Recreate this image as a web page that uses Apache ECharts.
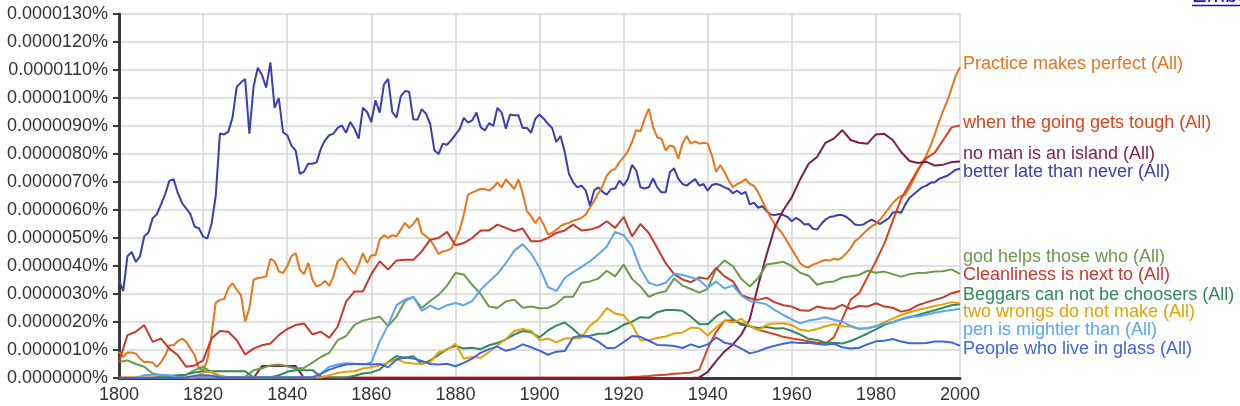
<!DOCTYPE html>
<html><head><meta charset="utf-8">
<script src="https://cdn.jsdelivr.net/npm/echarts@6/dist/echarts.min.js"></script>
<style>html,body{margin:0;padding:0;background:#fff}#c{width:1240px;height:406px}</style>
</head><body><div id="c"></div>
<script>
// values are in units of 0.000001 %
const firstYear = 1800;
const xTicks = [1800, 1820, 1840, 1860, 1880, 1900, 1920, 1940, 1960, 1980, 2000];

// yearly series (1800..2000, step 1)
const betterLate = [
 3.5,3.1,4.35,4.5,4.15,4.35,5.06,5.2,5.7,5.85,
 6.2,6.57,7.05,7.1,6.6,6.25,6.05,5.85,5.4,5.35,
 5.05,4.98,5.5,6.5,8.73,8.7,8.8,9.3,10.4,10.55,
 10.68,8.73,10.4,11.08,10.82,10.37,11.27,9.65,10.0,8.78,
 8.67,8.3,8.13,7.29,7.37,7.65,7.65,7.7,8.19,8.49,
 8.67,8.73,8.93,9.02,8.76,9.14,8.9,8.55,9.65,9.5,
 9.14,9.92,9.48,10.48,10.68,9.5,9.3,10.06,10.25,10.22,
 9.23,9.23,9.6,9.44,9.08,8.13,8.0,8.37,8.33,8.49,
 8.69,8.88,9.29,9.12,9.2,9.48,8.96,8.84,9.1,9.0,
 9.65,9.48,8.9,9.41,9.38,9.38,8.93,8.93,8.76,9.26,
 9.41,9.26,9.08,8.93,8.43,8.64,8.07,7.29,6.99,6.81,
 6.87,6.69,6.15,6.7,6.81,6.65,6.55,6.75,6.77,7.05,
 6.87,7.11,7.61,7.41,6.81,6.77,6.81,7.13,6.81,6.63,
 6.63,7.35,7.49,7.12,6.93,6.87,6.99,7.11,6.87,6.93,
 6.69,6.89,6.93,6.89,6.81,6.75,6.6,6.69,6.57,6.65,
 6.2,6.26,6.08,6.14,5.96,5.84,5.82,5.86,5.82,5.75,
 5.6,5.72,5.63,5.48,5.5,5.34,5.3,5.5,5.66,5.75,
 5.78,5.82,5.82,5.75,5.63,5.48,5.46,5.48,5.58,5.66,
 5.58,5.5,5.6,5.7,5.9,5.94,5.9,6.2,6.44,6.56,
 6.69,6.81,6.87,6.97,6.99,7.11,7.17,7.23,7.33,7.44,
 7.47];

const practice = [
 0.93,0.75,0.91,0.91,0.87,0.69,0.57,0.57,0.55,0.4,
 0.57,0.81,1.17,1.17,1.32,1.41,1.29,1.05,0.81,0.34,
 0.28,0.63,1.53,2.69,2.79,2.82,3.21,3.39,3.15,2.97,
 2.01,2.49,3.51,3.57,3.59,3.63,4.26,4.17,3.81,3.75,
 3.99,4.35,4.46,3.87,3.71,4.11,3.51,3.27,3.33,3.47,
 3.29,3.63,4.17,4.28,4.11,3.87,3.71,4.05,4.46,4.11,
 4.38,4.38,4.94,5.1,5.0,5.1,5.06,5.3,5.54,5.36,
 5.5,5.72,5.18,5.06,4.94,4.7,4.43,4.52,4.55,4.62,
 4.94,5.27,5.84,6.55,6.63,6.69,6.75,6.75,6.69,6.81,
 6.99,6.81,7.09,6.93,6.75,7.09,6.6,5.96,5.78,5.54,
 5.75,5.48,5.12,5.18,5.3,5.42,5.5,5.54,5.62,5.66,
 5.72,5.84,6.08,6.32,6.6,6.87,7.23,7.41,7.47,7.71,
 7.89,8.09,8.43,8.85,8.81,9.26,9.62,8.96,8.6,8.55,
 8.13,8.31,8.25,7.83,8.37,8.64,8.37,8.45,8.37,8.4,
 8.37,7.95,7.37,7.61,7.35,7.05,6.81,6.93,6.99,7.11,
 6.93,6.87,6.63,6.32,6.02,5.72,5.48,5.3,5.1,4.85,
 4.6,4.35,4.1,3.98,3.95,4.05,4.1,4.17,4.22,4.19,
 4.26,4.22,4.31,4.46,4.64,4.88,5.0,5.15,5.3,5.42,
 5.5,5.66,5.85,6.05,6.25,6.4,6.5,6.55,6.8,7.1,
 7.4,7.7,7.95,8.3,8.7,9.15,9.55,9.9,10.35,10.8,
 11.1];

// two-yearly series (1800..2000, step 2)
const goingTough = [
 0.02,0.02,0.02,0.02,0.02,0.02,0.02,0.02,0.02,0.02,
 0.02,0.02,0.02,0.02,0.02,0.02,0.02,0.02,0.02,0.02,
 0.02,0.02,0.02,0.02,0.02,0.02,0.02,0.02,0.02,0.02,
 0.02,0.02,0.02,0.02,0.02,0.02,0.02,0.02,0.02,0.02,
 0.02,0.02,0.02,0.02,0.02,0.02,0.02,0.02,0.02,0.02,
 0.02,0.02,0.02,0.02,0.02,0.02,0.02,0.02,0.02,0.02,
 0.02,0.04,0.05,0.07,0.1,0.12,0.15,0.17,0.2,0.3,
 1.05,1.65,2.05,2.05,1.95,1.85,1.72,1.64,1.56,1.47,
 1.41,1.37,1.31,1.26,1.23,1.45,2.1,2.8,3.03,3.6,
 4.17,4.8,5.6,6.4,6.93,7.45,7.85,8.05,8.5,8.95,
 9.02];

const noMan = [
 0,0,0,0,0,0,0,0,0,0,
 0,0,0,0,0,0,0,0.43,0.43,0.43,
 0.43,0.43,0,0,0,0,0,0,0,0,
 0,0,0,0,0,0,0,0,0,0,
 0,0,0,0,0,0,0,0,0,0,
 0,0,0,0,0,0,0,0,0,0,
 0,0,0,0,0,0,0,0,0,0.02,
 0.22,0.6,0.95,1.2,1.55,2.1,3.3,4.4,5.4,6.0,
 6.45,7.1,7.65,7.89,8.4,8.55,8.85,8.5,8.4,8.37,
 8.7,8.72,8.5,8.07,7.75,7.68,7.72,7.59,7.62,7.71,
 7.73];

const godHelps = [
 0.57,0.63,0.5,0.4,0.16,0.1,0.07,0.07,0.12,0.28,
 0.4,0.2,0.04,0.04,0.04,0.04,0.28,0.35,0.45,0.48,
 0.42,0.34,0.36,0.55,0.75,0.9,1.35,1.5,1.9,2.05,
 2.12,2.19,1.85,2.2,2.75,2.9,2.5,2.75,2.97,3.3,
 3.75,3.7,3.33,3.0,2.55,2.5,2.73,2.8,2.51,2.55,
 2.49,2.5,2.65,2.9,2.9,3.4,3.45,3.55,3.83,3.63,
 4.05,3.54,3.27,2.9,3.03,3.1,3.55,3.3,3.18,3.05,
 3.18,3.9,4.2,3.99,3.54,3.27,3.57,4.05,4.1,4.15,
 4.0,3.76,3.65,3.33,3.42,3.45,3.59,3.63,3.68,3.83,
 3.76,3.8,3.71,3.62,3.71,3.75,3.76,3.8,3.81,3.88,
 3.72];

const cleanliness = [
 0.57,1.53,1.65,1.89,1.29,1.41,1.05,0.81,0.4,0.45,
 0.63,1.41,1.68,1.65,1.35,0.84,1.05,1.17,1.23,1.53,
 1.75,1.89,1.95,1.56,1.65,1.44,1.83,2.73,3.09,3.09,
 3.71,4.17,3.87,4.2,4.22,4.22,4.52,4.94,5.0,5.22,
 4.74,4.82,5.0,5.27,5.27,5.48,5.36,5.24,5.34,4.88,
 4.88,5.0,5.18,5.27,5.48,5.27,5.3,5.39,5.6,5.36,
 5.75,5.06,5.5,5.18,4.64,4.1,3.71,3.52,3.42,3.59,
 3.54,3.93,3.63,3.45,2.97,2.85,2.79,2.87,2.7,2.6,
 2.55,2.42,2.4,2.55,2.49,2.47,2.61,2.47,2.57,2.55,
 2.67,2.55,2.51,2.37,2.43,2.6,2.7,2.79,2.88,3.03,
 3.11];

const beggars = [
 0,0,0,0,0,0.05,0.07,0.1,0.12,0.2,
 0.24,0.24,0.24,0.24,0.24,0.24,0.02,0.02,0.02,0.1,
 0.22,0.28,0.28,0.28,0.05,0.03,0.02,0.02,0.08,0.16,
 0.2,0.3,0.57,0.78,0.72,0.78,0.5,0.63,0.82,1.03,
 1.15,1.05,1.08,1.03,1.17,1.25,1.38,1.55,1.68,1.63,
 1.45,1.7,1.87,1.98,1.75,1.47,1.51,1.58,1.59,1.72,
 1.9,2.01,2.17,2.15,2.35,2.43,2.43,2.4,2.19,1.93,
 1.92,2.2,2.38,2.1,1.9,1.85,1.79,1.82,1.77,1.78,
 1.68,1.55,1.4,1.36,1.26,1.26,1.23,1.32,1.45,1.59,
 1.74,1.9,1.99,2.1,2.17,2.25,2.34,2.42,2.51,2.6,
 2.63];

const twoWrongs = [
 0.01,0.01,0.01,0.01,0.01,0.01,0.01,0.01,0.01,0.02,
 0.2,0.22,0.1,0.02,0.02,0.02,0.02,0.02,0.02,0.02,
 0.02,0.02,0.02,0.02,0.02,0.1,0.18,0.22,0.24,0.34,
 0.38,0.45,0.55,0.68,0.55,0.52,0.5,0.57,0.92,1.0,
 1.23,0.69,0.75,0.72,0.93,1.17,1.39,1.68,1.75,1.68,
 1.35,1.41,1.27,1.41,1.41,1.44,1.87,2.1,2.5,2.3,
 2.24,1.9,1.35,1.35,1.43,1.48,1.59,1.62,1.8,1.78,
 1.52,1.8,2.05,1.98,2.12,1.86,1.71,1.9,1.95,1.95,
 1.89,1.72,1.68,1.75,1.85,1.92,1.85,1.84,1.75,1.79,
 1.85,1.99,2.12,2.25,2.35,2.43,2.5,2.57,2.63,2.71,
 2.67];

const penMightier = [
 0,0,0,0.1,0.12,0.12,0.1,0.03,0.02,0.02,
 0.02,0.02,0.02,0.02,0.02,0.02,0.02,0.02,0.02,0.02,
 0.02,0.02,0.02,0.02,0.15,0.4,0.48,0.53,0.51,0.48,
 0.55,1.3,1.89,2.6,2.8,2.9,2.4,2.58,2.45,2.6,
 2.68,2.6,2.75,3.15,3.45,3.72,4.1,4.55,4.78,4.45,
 3.95,3.25,3.1,3.57,3.78,3.97,4.17,4.42,4.7,5.22,
 5.1,4.7,3.9,3.4,3.3,3.4,3.73,3.68,3.6,3.5,
 3.22,3.45,3.2,3.3,2.95,2.75,2.7,2.63,2.42,2.25,
 2.09,1.95,2.05,2.1,2.17,2.08,2.01,1.86,1.77,1.77,
 1.85,1.94,1.99,2.1,2.2,2.2,2.26,2.33,2.38,2.43,
 2.47];

const peopleGlass = [
 0,0,0,0,0,0,0,0,0.02,0.08,
 0.1,0.08,0.02,0.02,0.02,0.02,0.02,0.02,0.02,0.02,
 0.02,0.02,0.02,0.02,0.15,0.3,0.4,0.48,0.5,0.5,
 0.48,0.5,0.38,0.66,0.73,0.7,0.61,0.5,0.48,0.51,
 0.42,0.54,0.69,0.9,1.03,1.12,0.97,1.05,1.2,1.1,
 0.98,0.83,0.94,0.96,1.45,1.52,1.45,1.3,1.07,1.08,
 1.28,1.5,1.47,1.33,1.18,1.17,1.14,1.07,1.2,1.1,
 1.2,1.45,1.26,1.2,1.05,0.88,0.95,1.07,1.15,1.22,
 1.28,1.25,1.26,1.21,1.19,1.22,1.1,1.05,1.08,1.2,
 1.31,1.33,1.39,1.3,1.24,1.24,1.25,1.3,1.3,1.27,
 1.15];

const seriesNames = [
 'Practice makes perfect (All)', 'when the going gets tough (All)', 'no man is an island (All)',
 'better late than never (All)', 'god helps those who (All)', 'Cleanliness is next to (All)',
 'Beggars can not be choosers (All)', 'two wrongs do not make (All)', 'pen is mightier than (All)',
 'People who live in glass (All)'];
const seriesValues = [practice, goingTough, noMan, betterLate, godHelps, cleanliness, beggars, twoWrongs, penMightier, peopleGlass];
const seriesStep = [1, 2, 2, 1, 2, 2, 2, 2, 2, 2];

// styles
const FONT = '"Liberation Sans", Arial, sans-serif';
const colors = ['#E6761B','#D9461D','#7B1E48','#3B3EAC','#6C9A4B','#C63A2E','#2E8A5C','#E2A407','#5AA6F2','#4166D8'];
const labelDy = [-3,-2,-8,3,-17,-16,-9,9,21,3];
const drawOrder = [3,0,1,2,4,5,6,7,8,9];

const chart = echarts.init(document.getElementById('c'), null, {renderer:'canvas'});
const series = drawOrder.map(function(k){
  const vals = seriesValues[k];
  return {
    name: seriesNames[k], type:'line', showSymbol:false, symbol:'none',
    data: vals.map(function(v,i){ return [firstYear + i*seriesStep[k], v]; }),
    lineStyle:{color:colors[k], width:2}, itemStyle:{color:colors[k]},
    emphasis:{disabled:true}, z: 2,
    endLabel:{show:true, formatter: seriesNames[k], color:colors[k], fontSize:18,
      fontFamily:FONT, distance:3, offset:[0, labelDy[k]]}
  };
});

chart.setOption({
  animation:false,
  backgroundColor:'#ffffff',
  grid:{left:119, right:280, top:14, bottom:28, containLabel:false},
  xAxis:{type:'value', min:xTicks[0], max:xTicks[xTicks.length-1], interval:20,
    axisLine:{show:true, lineStyle:{color:'#3a3a3a', width:3}},
    axisTick:{show:false},
    axisLabel:{color:'#333', fontSize:18, margin:8, fontFamily:FONT,
      formatter:function(v){return String(v);}},
    splitLine:{show:true, lineStyle:{color:'#d6d6d6', width:1.5}}
  },
  yAxis:{type:'value', min:0, max:13, interval:1,
    axisLine:{show:true, lineStyle:{color:'#3a3a3a', width:3}},
    axisTick:{show:true, length:6, lineStyle:{color:'#3a3a3a', width:2}},
    axisLabel:{color:'#333', fontSize:18, margin:11, fontFamily:FONT,
      formatter:function(v){return (v/1e6).toFixed(7)+'%';}},
    splitLine:{show:true, lineStyle:{color:'#d6d6d6', width:1.5}}
  },
  series: series,
  graphic:[
    {type:'text', x:1192, y:-15, style:{text:'Embed', fill:'#1a0dcc', font:'22px ' + FONT, verticalAlign:'top'}},
    {type:'line', shape:{x1:1192, y1:5.5, x2:1240, y2:5.5}, style:{stroke:'#1a0dcc', lineWidth:1.5}}
  ]
});
</script></body></html>
